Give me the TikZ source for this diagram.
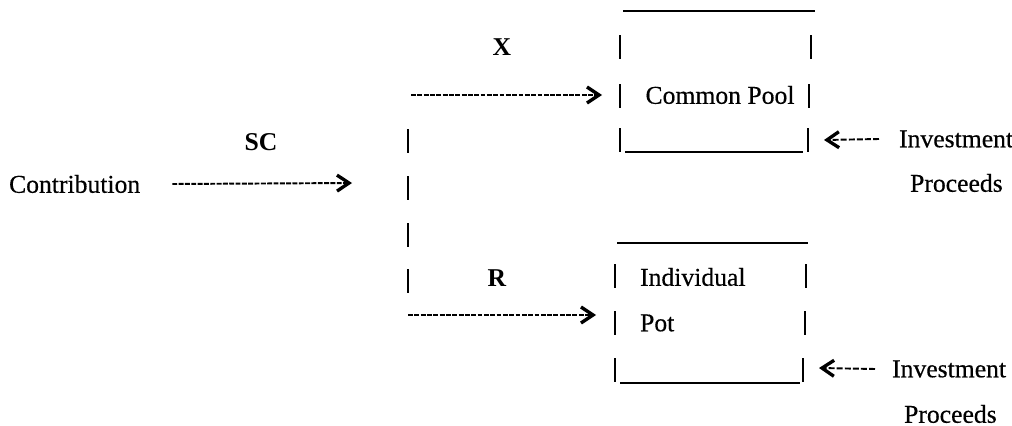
\documentclass[tikz,border=0pt]{standalone}
\usepackage{fontspec}
\setmainfont{Liberation Serif}[UprightFeatures={FakeBold=0.4}]
\usetikzlibrary{positioning,arrows.meta}
\newcommand{\pipe}{\draw[pipeline] (0,-12) -- (0,12);}
\tikzset{
	words/.style={inner sep=1pt, font=\fontsize{14.6}{17}\selectfont},
	flowname/.style={inner sep=1pt, font=\fontsize{14.6}{17}\selectfont\bfseries},
	flow/.style={line width=1.1pt, dash pattern=on 2.8pt off 0.8pt,
		-{Straight Barb[length=0.24cm,width=0.32cm,line width=1.9pt]}},
	backflow/.style={line width=1.1pt, dash pattern=on 3.4pt off 1.2pt,
		-{Straight Barb[length=0.24cm,width=0.32cm,line width=1.9pt]}},
	pipeline/.style={line width=1.2pt},
	lid/.style={line width=1.2pt}
}

\begin{document}
\begin{tikzpicture}[x=0.02cm, y=-0.02cm]
					\useasboundingbox (0,0) rectangle (1012,426);

					\node[words, anchor=west] (contrib) at (7,184) {Contribution};
					\node[flowname] (sc) at (261,142) {SC};
					\node[flowname] (x) at (502,47) {X};
					\node[flowname] (r) at (497,278) {R};
					\node[words] (pool) at (720,95) {Common Pool};
					\node[words, anchor=west] (indiv) at (638,277) {Individual};
					\node[words, anchor=west] (pot) at (638,323) {Pot};
					\node[words, anchor=west] (inv top) at (897,139) {Investment};
					\node[words, anchor=west] (proc top) at (908,183) {Proceeds};
					\node[words, anchor=west] (inv bot) at (890,369) {Investment};
					\node[words, anchor=west] (proc bot) at (902,414) {Proceeds};

					\coordinate (split in) at (352,183);
					\coordinate (split top) at (411,95);
					\coordinate (split bot) at (408,315);
					\coordinate (pool in) at (602,95);
					\coordinate (pot in) at (596,315);
					\coordinate (pool back) at (824,140);
					\coordinate (pot back) at (819,368);

					\draw[flow] ([xshift=0.6cm]contrib.east) -- (split in);
					\draw[flow] (split top) -- (pool in);
					\draw[flow] (split bot) -- (pot in);
					\draw[backflow] ([xshift=-0.36cm]inv top.west) -- (pool back);
					\draw[backflow] ([xshift=-0.3cm]inv bot.west) -- (pot back);

					\draw[lid] (623,11) -- (815,11);
					\draw[lid] (625,152) -- (803,152);
					\draw[lid] (617,243) -- (808,243);
					\draw[lid] (620,383) -- (800,383);

					\begin{scope}[shift={(408,141)}]
						\pipe
					\end{scope}

					\begin{scope}[shift={(408,188)}]
						\pipe
					\end{scope}

					\begin{scope}[shift={(408,235)}]
						\pipe
					\end{scope}

					\begin{scope}[shift={(408,281)}]
						\pipe
					\end{scope}

					\begin{scope}[shift={(620,47)}]
						\pipe
					\end{scope}

					\begin{scope}[shift={(620,96)}]
						\pipe
					\end{scope}

					\begin{scope}[shift={(620,140)}]
						\pipe
					\end{scope}

					\begin{scope}[shift={(811,47)}]
						\pipe
					\end{scope}

					\begin{scope}[shift={(809,96)}]
						\pipe
					\end{scope}

					\begin{scope}[shift={(808,140)}]
						\pipe
					\end{scope}

					\begin{scope}[shift={(615,276)}]
						\pipe
					\end{scope}

					\begin{scope}[shift={(615,323)}]
						\pipe
					\end{scope}

					\begin{scope}[shift={(615,370)}]
						\pipe
					\end{scope}

					\begin{scope}[shift={(806,276)}]
						\pipe
					\end{scope}

					\begin{scope}[shift={(805,323)}]
						\pipe
					\end{scope}

					\begin{scope}[shift={(803,370)}]
						\pipe
					\end{scope}

				\end{tikzpicture}
\end{document}
